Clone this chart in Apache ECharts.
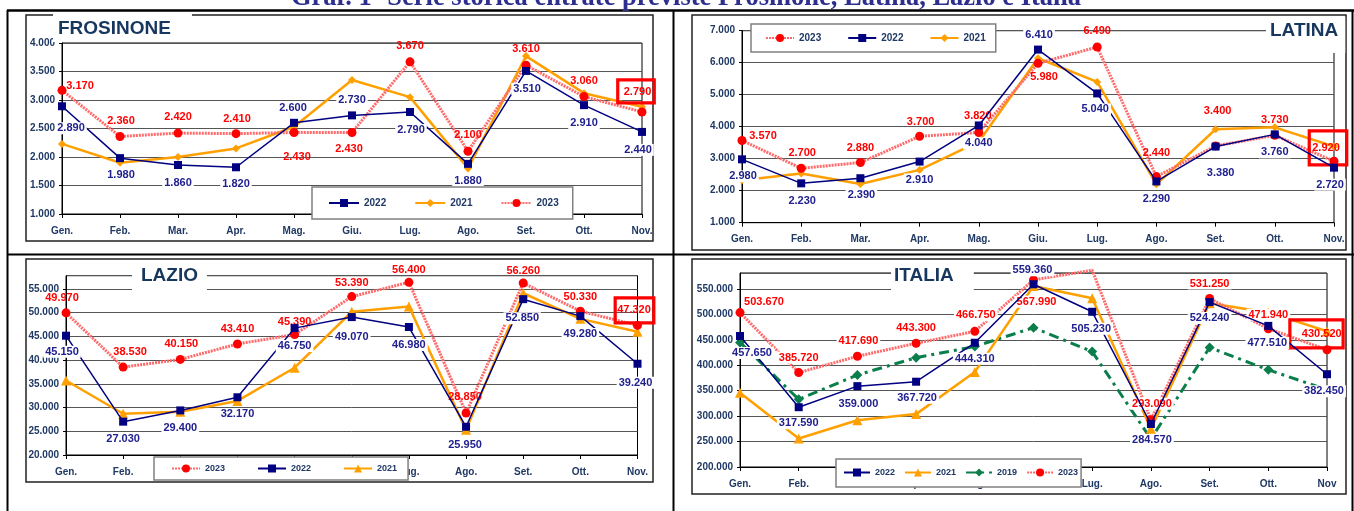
<!DOCTYPE html>
<html>
<head>
<meta charset="utf-8">
<script src="https://cdn.jsdelivr.net/npm/echarts@6/dist/echarts.min.js"></script>
<style>
html,body{margin:0;padding:0;background:#fff;}
#c{width:1354px;height:511px;}
</style>
</head>
<body>
<div id="c"></div>
<script>
// ---------------- DATA ----------------
const monthsA = ['Gen.','Feb.','Mar.','Apr.','Mag.','Giu.','Lug.','Ago.','Set.','Ott.','Nov.'];
const monthsB = ['Gen.','Feb.','Mar.','Apr.','Mag.','Giu.','Lug.','Ago.','Set.','Ott.','Nov'];

const froY2022 = [2890,1980,1860,1820,2600,2730,2790,1880,3510,2910,2440];
const froY2021 = [2230,1900,2000,2150,2530,3350,3050,1800,3770,3120,2880];
const froY2023 = [3170,2360,2420,2410,2430,2430,3670,2100,3610,3060,2790];

const latY2023 = [3570,2700,2880,3700,3820,5980,6490,2440,3400,3730,2920];
const latY2022 = [2980,2230,2390,2910,4040,6410,5040,2290,3380,3760,2720];
const latY2021 = [2330,2540,2210,2650,3530,6140,5400,2200,3920,3980,3380];

const lazY2023 = [49970,38530,40150,43410,45390,53390,56400,28850,56260,50330,47320];
const lazY2022 = [45150,27030,29400,32170,46750,49070,46980,25950,52850,49280,39240];
const lazY2021 = [35700,28700,29100,31400,38400,50200,51300,25300,54100,48700,46000];

const itaY2022 = [457650,317590,359000,367720,444310,559360,505230,284570,524240,477510,382450];
const itaY2021 = [346000,256000,292000,304000,387000,556000,532000,275000,522000,504000,467000];
const itaY2019 = [445000,333000,381000,415000,437000,474000,427000,255000,435000,391000,352000];
const itaY2023 = [503670,385720,417690,443300,466750,567990,587000,293090,531250,471940,430520];

const froTicks = {min:1000, max:4000, interval:500};
const latTicks = {min:1000, max:7000, interval:1000};
const lazTicks = {min:20000, max:57800, interval:5000};
const itaTicks = {min:200000, max:581500, interval:50000};

// ---------------- LABEL PLACEMENT (style only) ----------------
const offFro22 = [[9,22],[1,17],[0,18],[0,17],[-1,-15],[0,-15],[1,18],[0,17],[1,18],[0,18],[-4,18]];
const offFro23 = [[18,-4],[1,-16],[0,-16],[1,-15],[3,24],[-3,16],[0,-16],[0,-16],[0,-16],[0,-16],[-6,-20.5]];
const offLat23 = [[21,-4],[1,-15],[0,-15],[1,-14],[-1,-16],[6,14],[0,-16],[0,-24],[2,-35],[0,-15],[-6,-13.3]];
const offLat22 = [[1,17],[1,18],[1,17],[0,18],[0,18],[1,-15],[-2,16],[0,18],[5,26],[0,18],[-4,17]];
const offLaz23 = [[-4,-15],[7,-15],[1,-15],[0,-15],[0,-13],[0,-14],[0,-12],[-1,-16],[0,-12],[0,-14],[-3,-15]];
const offLaz22 = [[-4,16],[0,17],[0,18],[0,17],[0,18],[0,20],[0,18],[-1,18],[-1,19],[0,18],[-2,19]];
const offIta23 = [[24,-11],[0,-15],[1,-15],[0,-15],[1,-16],[3,22],null,[1,-16],[0,-15],[0,-14],[-10.5,-16]];
const offIta22 = [[12,17],[0,16],[1,18],[1,16],[0,16],[-1,-14],[-1,17],[1,16],[0,16],[-1,17],[-3,17]];
const boxPad = {F:[11,3,1,6], L:[12,7,11,3], Z:[7,3,7,2], I:[9.5,1.5,7.5,12]};
const hiddenSymIta23 = [6];

// ---------------- HELPERS ----------------
const FONT = '"Liberation Sans", Arial, sans-serif';
const NAVY = '#1F3864';
const fmt = v => Math.round(v).toString().replace(/\B(?=(\d{3})+(?!\d))/g, '.');

const ST = {
  y22: {line:'#000080', mark:'#000080', width:1.5, symbol:'rect', size:8, z:4},
  y21d:{line:'#FFA000', mark:'#FFA000', width:2.5, symbol:'diamond', size:8, z:2},
  y21t:{line:'#FFA000', mark:'#FFA000', width:2.5, symbol:'triangle', size:10, z:2},
  y23: {line:'#FF6A6A', mark:'#FF0000', width:3, symbol:'circle', size:9, z:3, type:[2,1]},
  y19: {line:'#0B7F4B', mark:'#0B7F4B', width:3, symbol:'diamond', size:10, z:2, type:[10,5,3,5]}
};

function mkSeries(name, gi, vals, st, opts) {
  opts = opts || {};
  const data = vals.map((v, i) => {
    const item = {value: v};
    if (opts.hideSym && opts.hideSym.indexOf(i) >= 0) item.symbol = 'none';
    if (opts.offsets) {
      const o = opts.offsets[i];
      if (!o) item.label = {show:false};
      else {
        item.label = {offset:o};
        if (i === vals.length - 1 && opts.box) {
          item.label.borderColor = '#FF0000';
          item.label.borderWidth = 1.6;
          item.label.padding = opts.box;
          item.label.backgroundColor = 'transparent';
        }
      }
    }
    return item;
  });
  return {
    type:'line', name:name, xAxisIndex:gi, yAxisIndex:gi, data:data,
    z: st.z, clip:false, smooth:false, animation:false,
    symbol: st.symbol, symbolSize: st.size, showSymbol:true,
    lineStyle:{color:st.line, width:st.width, type: st.type || 'solid'},
    itemStyle:{color:st.mark, borderWidth:0},
    label:{
      show: !!opts.offsets, position:'inside',
      formatter: p => fmt(p.value),
      color: opts.labelColor || '#20208F',
      fontFamily: FONT, fontWeight:'bold', fontSize:11,
      backgroundColor: opts.labelBg || 'transparent',
      padding: [1,2,0,2]
    },
    emphasis:{disabled:true}
  };
}

function mkGrid(l, t, w, h) {
  return {left:l, top:t, width:w, height:h, containLabel:false, outerBoundsMode:'none',
          show:true, borderColor:'#000', borderWidth:1, backgroundColor:'transparent'};
}
function mkX(gi, cats) {
  return {type:'category', gridIndex:gi, data:cats, boundaryGap:false,
    axisLine:{show:true, lineStyle:{color:'#000', width:1}},
    axisTick:{show:true, length:4, alignWithLabel:true, lineStyle:{color:'#000'}},
    axisLabel:{interval:0, margin:12, color:NAVY, fontFamily:FONT, fontWeight:'bold', fontSize:10},
    splitLine:{show:false}};
}
function mkY(gi, tk, hideMax) {
  return {type:'value', gridIndex:gi, min:tk.min, max:tk.max, interval:tk.interval,
    axisLine:{show:true, lineStyle:{color:'#000', width:1}},
    axisTick:{show:true, length:3, lineStyle:{color:'#000'}},
    axisLabel:{margin:7, color:NAVY, fontFamily:FONT, fontWeight:'bold', fontSize:10,
      formatter: v => fmt(v), showMaxLabel: !hideMax, showMinLabel:true},
    splitLine:{show:true, lineStyle:{color:'#555', width:1}}};
}
function mkTitle(text, l, t, pad) {
  return {text:text, left:l, top:t, padding:pad, backgroundColor:'#fff', z:10,
    textStyle:{color:'#17375E', fontFamily:FONT, fontWeight:'bold', fontSize:19, lineHeight:19}};
}
function mkLegend(names, l, t, pad, iw, gap, fs) {
  return {data:names, left:l, top:t, padding:pad, itemWidth:iw, itemHeight:10, itemGap:gap,
    orient:'horizontal', selectedMode:false, backgroundColor:'#fff', borderColor:'#808080', borderWidth:1.5,
    z:10, formatter: n => n.slice(1),
    textStyle:{color:NAVY, fontFamily:FONT, fontWeight:'bold', fontSize:fs}};
}

const series = [
  // Frosinone (grid 0)
  mkSeries('F2021', 0, froY2021, ST.y21d),
  mkSeries('F2023', 0, froY2023, ST.y23, {offsets:offFro23, labelColor:'#FF0000', box:boxPad.F}),
  mkSeries('F2022', 0, froY2022, ST.y22, {offsets:offFro22, labelColor:'#20208F', labelBg:'#fff'}),
  // Latina (grid 1)
  mkSeries('L2021', 1, latY2021, ST.y21d),
  mkSeries('L2023', 1, latY2023, ST.y23, {offsets:offLat23, labelColor:'#FF0000', box:boxPad.L}),
  mkSeries('L2022', 1, latY2022, ST.y22, {offsets:offLat22, labelColor:'#20208F', labelBg:'#fff'}),
  // Lazio (grid 2)
  mkSeries('Z2021', 2, lazY2021, ST.y21t),
  mkSeries('Z2023', 2, lazY2023, ST.y23, {offsets:offLaz23, labelColor:'#FF0000', box:boxPad.Z}),
  mkSeries('Z2022', 2, lazY2022, ST.y22, {offsets:offLaz22, labelColor:'#20208F', labelBg:'#fff'}),
  // Italia (grid 3)
  mkSeries('I2019', 3, itaY2019, ST.y19),
  mkSeries('I2021', 3, itaY2021, ST.y21t),
  mkSeries('I2023', 3, itaY2023, ST.y23, {offsets:offIta23, labelColor:'#FF0000', labelBg:'#fff', box:boxPad.I, hideSym:hiddenSymIta23}),
  mkSeries('I2022', 3, itaY2022, ST.y22, {offsets:offIta22, labelColor:'#20208F', labelBg:'#fff'})
];

const frameStyle = {fill:'none', stroke:'#222', lineWidth:1.5};
const tableStyle = {stroke:'#000', lineWidth:2};

const option = {
  backgroundColor:'#fff',
  animation:false,
  textStyle:{fontFamily:FONT},
  grid:[mkGrid(62,43,580,171), mkGrid(742,30.7,592,192), mkGrid(66,275.7,571.5,179.3), mkGrid(740,273,587,194)],
  xAxis:[mkX(0,monthsA), mkX(1,monthsA), mkX(2,monthsA), mkX(3,monthsB)],
  yAxis:[mkY(0,froTicks,false), mkY(1,latTicks,false), mkY(2,lazTicks,true), mkY(3,itaTicks,true)],
  title:[
    mkTitle('FROSINONE', 53, 14, [5,21,4,5]),
    mkTitle('LATINA', 1266, 17, [4,7,13,4]),
    mkTitle('LAZIO', 132, 261, [5,9,6,9]),
    mkTitle('ITALIA', 891, 262, [4,20,6,3])
  ],
  legend:[
    mkLegend(['F2022','F2021','F2023'], 312, 187, [11,14,11,16], 30, 28, 10),
    mkLegend(['L2023','L2022','L2021'], 751, 24, [9,10,9,14], 28, 26, 10),
    mkLegend(['Z2023','Z2022','Z2021'], 154, 457, [7,11,7,17], 28, 32, 9),
    mkLegend(['I2022','I2021','I2019','I2023'], 836, 459, [9,3,10,7], 26, 9, 9)
  ],
  graphic:[
    {type:'text', z:20, style:{text:'Graf. 1- Serie storica entrate previste Frosinone, Latina, Lazio e Italia',
      x:686, y:12, align:'center', verticalAlign:'bottom',
      font:'bold 26.5px "Liberation Serif", "Times New Roman", serif', fill:'#2E2E8F'}},
    {type:'line', z:1, shape:{x1:7, y1:10.5, x2:1354, y2:10.5}, style:{stroke:'#000', lineWidth:2.5}},
    {type:'line', z:1, shape:{x1:7.5, y1:10, x2:7.5, y2:511}, style:tableStyle},
    {type:'line', z:1, shape:{x1:673.5, y1:10, x2:673.5, y2:511}, style:tableStyle},
    {type:'line', z:1, shape:{x1:1352.5, y1:10, x2:1352.5, y2:511}, style:tableStyle},
    {type:'line', z:1, shape:{x1:7, y1:254.5, x2:1354, y2:254.5}, style:tableStyle},
    {type:'rect', z:1, shape:{x:26, y:15, width:627, height:226}, style:frameStyle},
    {type:'rect', z:1, shape:{x:692, y:15, width:654, height:235}, style:frameStyle},
    {type:'rect', z:1, shape:{x:26, y:259, width:627, height:223}, style:frameStyle},
    {type:'rect', z:1, shape:{x:692, y:259, width:654, height:235}, style:frameStyle}
  ],
  series: series
};

const chart = echarts.init(document.getElementById('c'), null, {renderer:'canvas'});
chart.setOption(option);
</script>
</body>
</html>
